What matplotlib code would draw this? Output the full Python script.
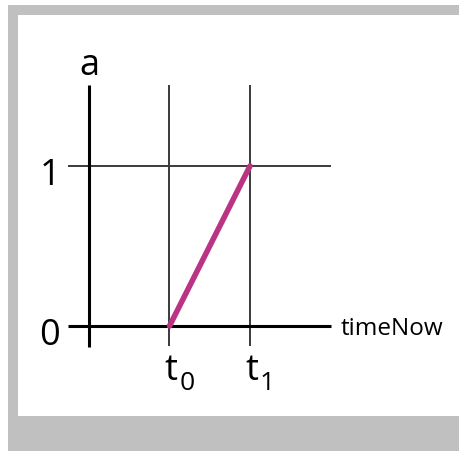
import matplotlib
matplotlib.use('Agg')
import matplotlib.pyplot as plt
from matplotlib.patches import Rectangle

# data: a ramps from 0 at t0 to 1 at t1
times = [1, 2]          # t0, t1
a_vals = [0, 1]
t_labels = ['0', '1']   # subscripts of t
a_ticks = [0, 1]

W, H = 460, 451
# pixel geometry of the reference
X0_PX, T_PX = 89, 80.5   # pixel of time 0, pixels per time unit
Y0_PX, A_PX = 326, 160   # pixel of a = 0, pixels per a unit


def px(x, y):
    return (x - X0_PX) / T_PX, (Y0_PX - y) / A_PX


fig = plt.figure(figsize=(W / 100, H / 100), dpi=100)
fig.patch.set_facecolor('white')

# grey frame: top, left and bottom bands (x, y_top, w, h in pixels)
gray = '#c0c0c0'
for x, y, w, h in [(8, 5, W - 8, 10), (8, 5, 10, H - 5), (8, 416, W - 8, H - 416)]:
    fig.add_artist(Rectangle((x / W, 1 - (y + h) / H), w / W, h / H,
                             transform=fig.transFigure, facecolor=gray,
                             edgecolor='none', zorder=-10))

ax = fig.add_axes([0, 0, 1, 1])
ax.set_xlim(px(0, 0)[0], px(W, 0)[0])
ax.set_ylim(px(0, H)[1], px(0, 0)[1])
ax.patch.set_visible(False)
ax.axis('off')

xl, xr = px(68, 0)[0], px(331, 0)[0]
yt, yb = px(0, 85)[1], px(0, 347)[1]

grid_c = '#3a3a3a'
for t in times:
    ax.plot([t, t], [yt, px(0, 346)[1]], color=grid_c, lw=1.4, zorder=1,
            solid_capstyle='butt')
ax.plot([xl, xr], [a_ticks[1], a_ticks[1]], color=grid_c, lw=1.4, zorder=1,
        solid_capstyle='butt')

# axes
ax.plot([0, 0], [yt, yb], color='black', lw=2.2, zorder=2, solid_capstyle='butt')
ax.plot([xl, xr], [0, 0], color='black', lw=2.2, zorder=2, solid_capstyle='butt')

# ramp
ax.plot(times, a_vals, color='#bb3483', lw=4.0, zorder=3, solid_capstyle='round')

font = 'Open Sans'
big = 26
ax.text(*px(89.5, 75), 'a', fontsize=big, family=font, ha='center', va='baseline')
for v in a_ticks:
    ax.text(px(50, 0)[0], v - 19 / A_PX, str(v), fontsize=big, family=font,
            ha='center', va='baseline')
for t, s in zip(times, t_labels):
    xt = X0_PX + t * T_PX
    ax.text(*px(xt - 5, 380), 't', fontsize=big, family=font, ha='left',
            va='baseline')
    ax.text(*px(xt + 10, 390), s, fontsize=19, family=font, ha='left',
            va='baseline')
ax.text(*px(341, 335), 'timeNow', fontsize=17.5, family=font, ha='left',
        va='baseline')

fig.savefig('out.png', dpi=100)
